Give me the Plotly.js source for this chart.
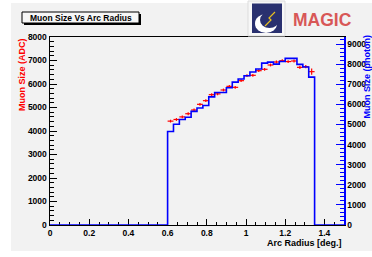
<!DOCTYPE html>
<html>
<head>
<meta charset="utf-8">
<script src="https://cdn.plot.ly/plotly-3.0.1.min.js"></script>
<style>
html,body{margin:0;padding:0;background:#ffffff;}
#chart{width:372px;height:257px;}
</style>
</head>
<body>
<div id="chart"></div>
<script>
// ---- data ----
const arcRadius = [0.615, 0.645, 0.675, 0.705, 0.735, 0.765, 0.795, 0.825, 0.855, 0.885,
                   0.915, 0.945, 0.975, 1.005, 1.035, 1.065, 1.095, 1.125, 1.155, 1.185,
                   1.215, 1.245, 1.275, 1.305, 1.335];
const binHalfWidth = 0.015;
const sizeADC = [4420, 4490, 4600, 4735, 4894, 5135, 5291, 5546, 5580, 5745,
                 5900, 5858, 6142, 6355, 6370, 6567, 6626, 6809, 6936, 6992,
                 6955, 6979, 6709, 6738, 6525];
const sizeADCerr = [60, 60, 60, 60, 60, 60, 60, 60, 60, 60,
                    60, 60, 60, 60, 60, 60, 60, 60, 60, 60,
                    60, 60, 70, 70, 130];
const sizePhoton = [4647, 5010, 5245, 5360, 5650, 5815, 5943, 6370, 6590, 6590,
                    6823, 7106, 7256, 7420, 7604, 7754, 8050, 8100, 8000, 8130,
                    8283, 8283, 7985, 7853, 7355];
const xRange = [0, 1.5];
const yLeftRange = [0, 8000];
const yRightRange = [0, 9348];

// histogram outline built from the bins (hv steps), zero outside the filled bins
const histX = [xRange[0]];
const histY = [0];
for (let i = 0; i < arcRadius.length; i++) {
  histX.push(arcRadius[i] - binHalfWidth);
  histY.push(sizePhoton[i]);
}
histX.push(arcRadius[arcRadius.length - 1] + binHalfWidth);
histY.push(0);
histX.push(xRange[1]);
histY.push(0);

// ---- geometry helpers (pixel -> paper) ----
const W = 372, H = 257;
const L = 50, R = 344, T = 37, B = 225;
const px = x => (x - L) / (R - L);
const py = y => (B - y) / (B - T);

const FONT = 'Liberation Sans, Arial, Helvetica, sans-serif';
const BG = '#f2f2f2';

const traces = [
  {
    x: arcRadius, y: sizeADC, type: 'scatter', mode: 'markers',
    marker: {size: 2, color: '#ff0000', opacity: 0},
    error_x: {type: 'constant', value: binHalfWidth, width: 0, thickness: 1.2, color: '#ff0000'},
    error_y: {type: 'data', array: sizeADCerr, width: 0, thickness: 1.2, color: '#ff0000'},
    hoverinfo: 'skip', showlegend: false, cliponaxis: false
  },
  {
    x: histX, y: histY, type: 'scatter', mode: 'lines', yaxis: 'y2',
    line: {shape: 'hv', color: '#0000ff', width: 1.6},
    hoverinfo: 'skip', showlegend: false, cliponaxis: false
  }
];

const tickFont = {family: FONT, size: 8.5, color: '#000000', weight: 'bold'};

const shapes = [
  // grey canvas
  {type: 'rect', xref: 'paper', yref: 'paper', x0: px(11), x1: px(372), y0: py(3), y1: py(251),
   fillcolor: BG, line: {width: 0}, layer: 'below'},
  // title box shadow + box
  {type: 'rect', xref: 'paper', yref: 'paper', x0: px(24), x1: px(141), y0: py(14), y1: py(25),
   fillcolor: '#000000', line: {width: 0}, layer: 'above'},
  {type: 'rect', xref: 'paper', yref: 'paper', x0: px(22), x1: px(139), y0: py(12), y1: py(23),
   fillcolor: '#f7f7f7', line: {width: 1, color: '#000000'}, layer: 'above'},
  // logo
  {type: 'rect', xref: 'paper', yref: 'paper', x0: px(248), x1: px(285), y0: py(1), y1: py(36),
   fillcolor: '#f7f7f7', line: {width: 1, color: '#dddddd'}, layer: 'above'},
  {type: 'rect', xref: 'paper', yref: 'paper', x0: px(252), x1: px(282), y0: py(3.5), y1: py(33),
   fillcolor: '#29306f', line: {width: 0}, layer: 'above'},
  {type: 'circle', xref: 'paper', yref: 'paper', x0: px(255), x1: px(277), y0: py(14), y1: py(33),
   fillcolor: '#ffffff', line: {width: 0}, layer: 'above'},
  {type: 'circle', xref: 'paper', yref: 'paper', x0: px(260), x1: px(279), y0: py(12), y1: py(28),
   fillcolor: '#29306f', line: {width: 0}, layer: 'above'},
  {type: 'path', xref: 'paper', yref: 'paper',
   path: 'M' + px(265) + ',' + py(26) + ' L' + px(271) + ',' + py(20) + ' L' + px(269) + ',' + py(18) + ' L' + px(275) + ',' + py(12),
   line: {width: 1.2, color: '#e8c020'}, layer: 'above'}
];

const annotations = [
  {text: 'Muon Size Vs Arc Radius', xref: 'paper', yref: 'paper', x: px(80.5), y: py(17.7),
   xanchor: 'center', yanchor: 'middle', showarrow: false,
   font: {family: FONT, size: 8.5, color: '#000000', weight: 'bold'}},
  {text: 'MAGIC', xref: 'paper', yref: 'paper', x: px(291), y: py(20),
   xanchor: 'left', yanchor: 'middle', showarrow: false,
   font: {family: FONT, size: 17.5, color: '#d85757', weight: 'bold'}},
  {text: 'Muon Size (ADC)', xref: 'paper', yref: 'paper', x: px(22), y: py(75),
   xanchor: 'center', yanchor: 'middle', textangle: -90, showarrow: false,
   font: {family: FONT, size: 9, color: '#ff0000', weight: 'bold'}},
  {text: 'Muon Size (photon)', xref: 'paper', yref: 'paper', x: px(366.5), y: py(77),
   xanchor: 'center', yanchor: 'middle', textangle: -90, showarrow: false,
   font: {family: FONT, size: 9, color: '#0000ff', weight: 'bold'}},
  {text: 'Arc Radius [deg.]', xref: 'paper', yref: 'paper', x: px(344), y: py(243.3),
   xanchor: 'right', yanchor: 'middle', showarrow: false,
   font: {family: FONT, size: 9, color: '#000000', weight: 'bold'}}
];

const layout = {
  width: W, height: H,
  margin: {l: L, r: W - R, t: T, b: H - B, pad: 0},
  paper_bgcolor: '#ffffff',
  plot_bgcolor: 'rgba(0,0,0,0)',
  showlegend: false,
  xaxis: {
    range: xRange, tick0: 0, dtick: 0.2, ticks: 'inside', ticklen: 6, tickwidth: 1,
    tickcolor: '#000000', tickfont: tickFont,
    minor: {dtick: 0.05, ticks: 'inside', ticklen: 3, tickwidth: 1, tickcolor: '#000000', showgrid: false},
    showgrid: false, zeroline: false, showline: true, linecolor: '#000000', linewidth: 1,
    mirror: true, layer: 'below traces', fixedrange: true
  },
  yaxis: {
    range: yLeftRange, tick0: 0, dtick: 1000, ticks: 'inside', ticklen: 7, tickwidth: 1,
    tickcolor: '#000000', tickfont: tickFont, exponentformat: 'none', separatethousands: false,
    minor: {dtick: 200, ticks: 'inside', ticklen: 4, tickwidth: 1, tickcolor: '#000000', showgrid: false},
    showgrid: false, zeroline: false, showline: true, linecolor: '#000000', linewidth: 1.5,
    layer: 'below traces', fixedrange: true
  },
  yaxis2: {
    overlaying: 'y', side: 'right',
    range: yRightRange, tick0: 0, dtick: 1000, ticks: 'inside', ticklen: 8, tickwidth: 1,
    tickcolor: '#0000ff', tickfont: tickFont, exponentformat: 'none', separatethousands: false,
    minor: {dtick: 200, ticks: 'inside', ticklen: 4, tickwidth: 1, tickcolor: '#0000ff', showgrid: false},
    showgrid: false, zeroline: false, showline: true, linecolor: '#0000ff', linewidth: 1.5,
    fixedrange: true
  },
  shapes: shapes,
  annotations: annotations
};

Plotly.newPlot('chart', traces, layout, {staticPlot: true, displayModeBar: false});
</script>
</body>
</html>
